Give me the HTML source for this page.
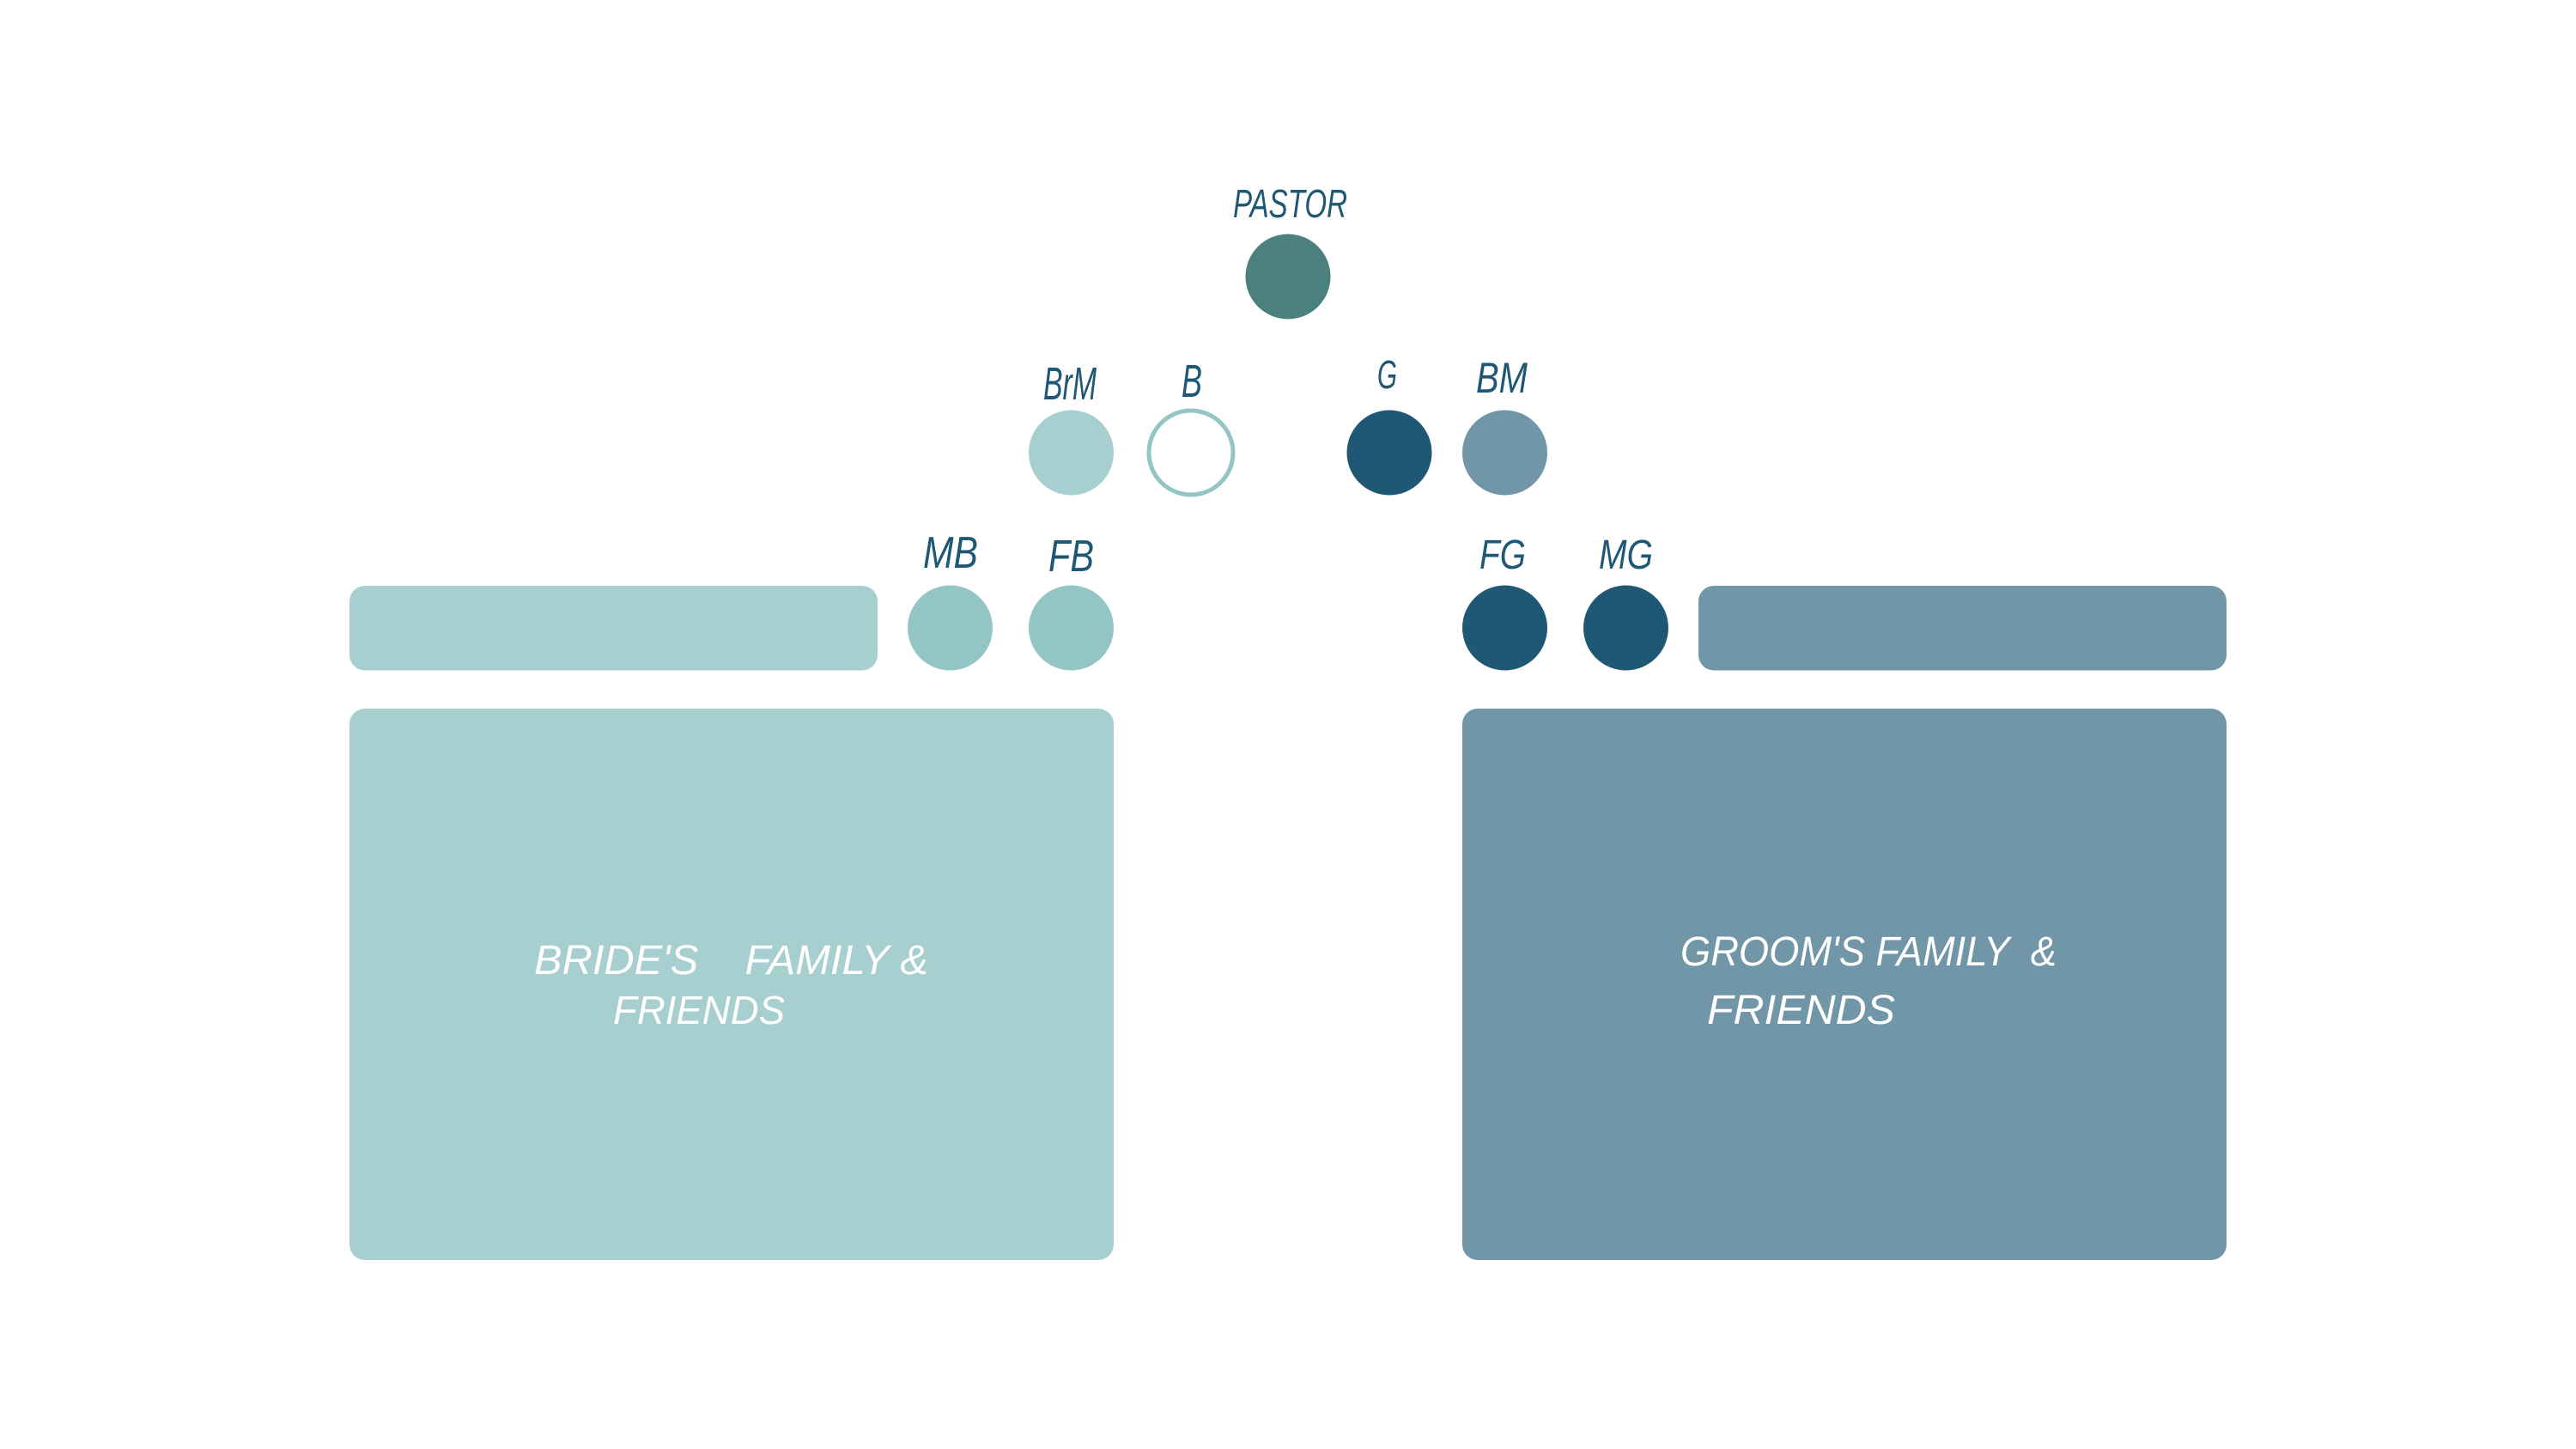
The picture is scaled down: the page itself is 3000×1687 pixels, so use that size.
<!DOCTYPE html>
<html>
<head>
<meta charset="utf-8">
<style>
  html, body { margin: 0; padding: 0; background: #ffffff; }
  body { width: 3000px; height: 1687px; overflow: hidden; }
  svg { display: block; }
  .lbl { font-family: "Liberation Sans", "DejaVu Sans", sans-serif; fill: #1f5874; font-style: italic; }
  .box { font-family: "Liberation Sans", "DejaVu Sans", sans-serif; fill: #ffffff; font-style: italic; white-space: pre; }
</style>
</head>
<body>
<svg width="3000" height="1687" viewBox="0 0 3000 1687" xmlns="http://www.w3.org/2000/svg">
  <rect x="0" y="0" width="3000" height="1687" fill="#ffffff"/>

  <!-- Pastor -->
  <text class="lbl" x="1436" y="253" font-size="46" textLength="133" lengthAdjust="spacingAndGlyphs">PASTOR</text>
  <circle cx="1500" cy="322" r="49.5" fill="#4a817e"/>

  <!-- Row 2 -->
  <text class="lbl" x="1215" y="465" font-size="54" textLength="62" lengthAdjust="spacingAndGlyphs">BrM</text>
  <circle cx="1247.5" cy="527" r="49.5" fill="#a7cfd0"/>

  <text class="lbl" x="1376" y="462" font-size="54" textLength="24" lengthAdjust="spacingAndGlyphs">B</text>
  <circle cx="1387" cy="527" r="49" fill="#ffffff" stroke="#93c5c4" stroke-width="5"/>

  <text class="lbl" x="1604" y="452" font-size="46" textLength="23" lengthAdjust="spacingAndGlyphs">G</text>
  <circle cx="1618" cy="527" r="49.5" fill="#1f5874"/>

  <text class="lbl" x="1719" y="457" font-size="50" textLength="60" lengthAdjust="spacingAndGlyphs">BM</text>
  <circle cx="1752.5" cy="527" r="49.5" fill="#7096a8"/>

  <!-- Row 3 left -->
  <rect x="407" y="682" width="615" height="98.5" rx="18" ry="18" fill="#a7cfd0"/>
  <text class="lbl" x="1075" y="661" font-size="52" textLength="64" lengthAdjust="spacingAndGlyphs">MB</text>
  <circle cx="1106.5" cy="731" r="49.5" fill="#93c5c4"/>
  <text class="lbl" x="1221" y="665" font-size="52" textLength="53" lengthAdjust="spacingAndGlyphs">FB</text>
  <circle cx="1247.5" cy="731" r="49.5" fill="#93c5c4"/>

  <!-- Row 3 right -->
  <text class="lbl" x="1723" y="662" font-size="48" textLength="54" lengthAdjust="spacingAndGlyphs">FG</text>
  <circle cx="1752.5" cy="731" r="49.5" fill="#1f5874"/>
  <text class="lbl" x="1862" y="662" font-size="48" textLength="63" lengthAdjust="spacingAndGlyphs">MG</text>
  <circle cx="1893.5" cy="731" r="49.5" fill="#1f5874"/>
  <rect x="1978" y="682" width="615" height="98.5" rx="18" ry="18" fill="#7096a8"/>

  <!-- Big boxes -->
  <rect x="407" y="825" width="890" height="642" rx="18" ry="18" fill="#a7cfd0"/>
  <rect x="1703" y="825" width="890" height="642" rx="18" ry="18" fill="#7096a8"/>

  <!-- Box text -->
  <text class="box" xml:space="preserve" x="622" y="1134" font-size="48" textLength="459" lengthAdjust="spacingAndGlyphs">BRIDE'S    FAMILY &amp;</text>
  <text class="box" x="714" y="1192" font-size="46" textLength="200" lengthAdjust="spacingAndGlyphs">FRIENDS</text>

  <text class="box" xml:space="preserve" x="1957" y="1124" font-size="48" textLength="438" lengthAdjust="spacingAndGlyphs">GROOM'S FAMILY  &amp;</text>
  <text class="box" x="1988" y="1192" font-size="48" textLength="219" lengthAdjust="spacingAndGlyphs">FRIENDS</text>
</svg>
</body>
</html>
